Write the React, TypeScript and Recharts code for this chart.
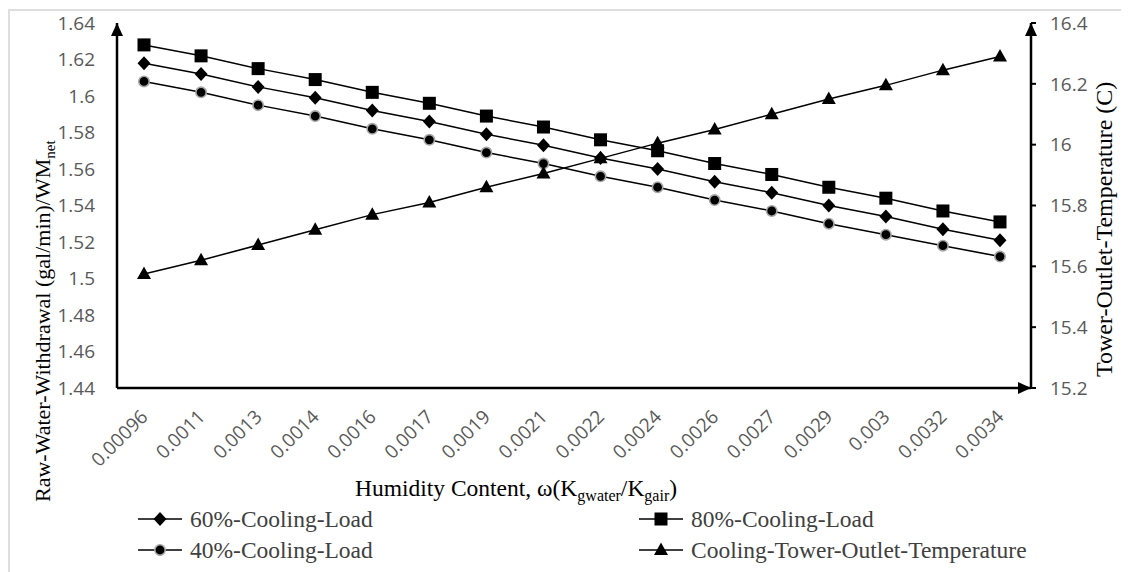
import React from "react"
import { LineChart, Line, XAxis, YAxis } from "recharts"

// humidity content categories (x axis)
const humidity = [
  "0.00096", "0.0011", "0.0013", "0.0014", "0.0016", "0.0017", "0.0019", "0.0021",
  "0.0022", "0.0024", "0.0026", "0.0027", "0.0029", "0.003", "0.0032", "0.0034",
]

// raw water withdrawal / WM_net, left axis
const load60 = [1.618, 1.612, 1.605, 1.599, 1.592, 1.586, 1.579, 1.573, 1.566, 1.56, 1.553, 1.547, 1.54, 1.534, 1.527, 1.521]
const load80 = [1.628, 1.622, 1.615, 1.609, 1.602, 1.596, 1.589, 1.583, 1.576, 1.57, 1.563, 1.557, 1.55, 1.544, 1.537, 1.531]
const load40 = [1.608, 1.602, 1.595, 1.589, 1.582, 1.576, 1.569, 1.563, 1.556, 1.55, 1.543, 1.537, 1.53, 1.524, 1.518, 1.512]

// cooling tower outlet temperature (C), right axis
const towerTemp = [15.575, 15.62, 15.67, 15.72, 15.77, 15.81, 15.86, 15.905, 15.955, 16.005, 16.05, 16.1, 16.15, 16.195, 16.245, 16.29]

const leftTicks = [1.44, 1.46, 1.48, 1.5, 1.52, 1.54, 1.56, 1.58, 1.6, 1.62, 1.64]
const rightTicks = [15.2, 15.4, 15.6, 15.8, 16, 16.2, 16.4]

const rows = humidity.map((h, i) => ({
  h,
  load60: load60[i],
  load80: load80[i],
  load40: load40[i],
  temp: towerTemp[i],
}))

const SANS = "'Open Sans', sans-serif"
const SERIF = "'Liberation Serif', 'Times New Roman', serif"
const GREY = "#595959"

const fmt = (v: number) => String(parseFloat(v.toFixed(2)))

function diamond(cx: number, cy: number, key?: any) {
  return <path key={key} d={`M${cx} ${cy - 7}L${cx + 6.5} ${cy}L${cx} ${cy + 7}L${cx - 6.5} ${cy}Z`} fill="#000" />
}
function square(cx: number, cy: number, key?: any) {
  return <rect key={key} x={cx - 6.5} y={cy - 6.5} width={13} height={13} fill="#000" />
}
function circle(cx: number, cy: number, key?: any) {
  return <circle key={key} cx={cx} cy={cy} r={5.2} fill="#000" stroke="#a6a6a6" strokeWidth={1.6} />
}
function triangle(cx: number, cy: number, key?: any) {
  return <path key={key} d={`M${cx} ${cy - 7.5}L${cx + 7} ${cy + 5}L${cx - 7} ${cy + 5}Z`} fill="#000" />
}

const series = [
  { key: "load60", name: "60%-Cooling-Load", axis: "left", shape: diamond },
  { key: "load80", name: "80%-Cooling-Load", axis: "left", shape: square },
  { key: "load40", name: "40%-Cooling-Load", axis: "left", shape: circle },
  { key: "temp", name: "Cooling-Tower-Outlet-Temperature", axis: "right", shape: triangle },
]

const HumidityTick = (props: any) => {
  const { x, y, payload } = props
  const ax = x + 5
  const ay = y + 30
  return (
    <text x={ax} y={ay} transform={`rotate(-45 ${ax} ${ay})`} textAnchor="end" fill={GREY} fontSize={19} fontFamily={SANS}>
      {payload.value}
    </text>
  )
}

const XTitle = () => (
  <text x={508} y={488} textAnchor="middle" fontFamily={SERIF} fontSize={23.5} fill="#000">
    Humidity Content, ω(K
    <tspan fontSize={16} dy={5}>gwater</tspan>
    <tspan dy={-5}>/K</tspan>
    <tspan fontSize={16} dy={5}>gair</tspan>
    <tspan dy={-5}>)</tspan>
  </text>
)

const LeftTitle = () => (
  <text x={42} y={494} transform="rotate(-90 42 494)" textAnchor="start" fontFamily={SERIF} fontSize={22} fill="#000">
    Raw-Water-Withdrawal (gal/min)/WM
    <tspan fontSize={15} dy={5}>net</tspan>
  </text>
)

const RightTitle = () => (
  <text x={1104} y={369} transform="rotate(-90 1104 369)" textAnchor="start" fontFamily={SERIF} fontSize={24} fill="#000">
    Tower-Outlet-Temperature (C)
  </text>
)

const legendSpots = [
  { left: 130, top: 511 },
  { left: 631, top: 511 },
  { left: 130, top: 542 },
  { left: 631, top: 542 },
]

export default function App() {
  return (
    <div style={{ position: "relative", width: 1121, height: 564, overflow: "hidden", background: "#fff" }}>
      <svg width={0} height={0} style={{ position: "absolute" }}>
        <defs>
          <marker id="arrowHead" viewBox="0 0 13 12" refX={13} refY={6} markerWidth={13} markerHeight={12} markerUnits="userSpaceOnUse" orient="auto-start-reverse">
            <path d="M0 0L13 6L0 12Z" fill="#000" />
          </marker>
        </defs>
      </svg>
      <div style={{ position: "absolute", top: 1, left: 0, width: 2000, height: 2000, borderTop: "2px solid #dedede", borderLeft: "2px solid #dedede" }} />
      <LineChart width={1121} height={564} data={rows} margin={{ top: 15, right: 0, bottom: 84, left: 0 }}>
        <XAxis
          dataKey="h"
          height={100}
          padding={{ left: 27, right: 31 }}
          tickLine={false}
          tickSize={0}
          tickMargin={0}
          interval={0}
          tick={<HumidityTick />}
          axisLine={{ stroke: "#000", strokeWidth: 2.5, markerEnd: "url(#arrowHead)" }}
          label={<XTitle />}
        />
        <YAxis
          yAxisId="left"
          width={109}
          domain={[1.44, 1.64]}
          ticks={leftTicks}
          interval={0}
          tickFormatter={fmt}
          tickLine={false}
          tickSize={0}
          tickMargin={22}
          tick={{ fill: GREY, fontSize: 19, fontFamily: SANS }}
          axisLine={{ stroke: "#000", strokeWidth: 2.5, markerStart: "url(#arrowHead)" }}
          label={<LeftTitle />}
        />
        <YAxis
          yAxisId="right"
          orientation="right"
          width={98}
          domain={[15.2, 16.4]}
          ticks={rightTicks}
          interval={0}
          tickFormatter={fmt}
          tickLine={{ stroke: "#000", strokeWidth: 2 }}
          tickSize={5}
          tickMargin={14}
          tick={{ fill: GREY, fontSize: 19, fontFamily: SANS, textAnchor: "start" }}
          axisLine={{ stroke: "#000", strokeWidth: 2.5, markerStart: "url(#arrowHead)" }}
          label={<RightTitle />}
        />
        {series.map((s) => (
          <Line
            key={s.key}
            yAxisId={s.axis}
            dataKey={s.key}
            name={s.name}
            type="linear"
            stroke="#000"
            strokeWidth={1.5}
            isAnimationActive={false}
            dot={(p: any) => s.shape(p.cx, p.cy, `${s.key}-${p.index}`)}
            activeDot={false}
          />
        ))}
      </LineChart>
      {series.map((s, i) => (
        <div
          key={s.key}
          style={{
            position: "absolute",
            left: legendSpots[i].left,
            top: legendSpots[i].top - 15,
            height: 30,
            display: "flex",
            alignItems: "center",
            whiteSpace: "nowrap",
          }}
        >
          <svg width={46} height={20} style={{ marginRight: 6 }}>
            <line x1={0} y1={10} x2={44} y2={10} stroke="#000" strokeWidth={1.5} />
            {s.shape(22, 10)}
          </svg>
          <span style={{ fontFamily: SERIF, fontSize: 23.5, color: "#404040" }}>{s.name}</span>
        </div>
      ))}
    </div>
  )
}
